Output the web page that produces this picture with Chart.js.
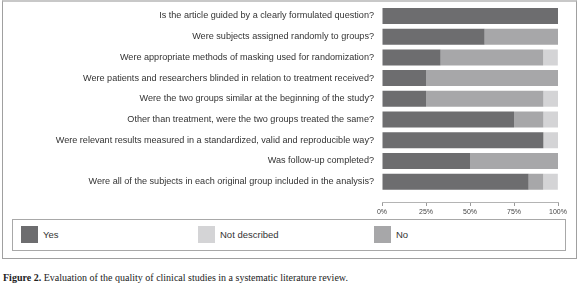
<!DOCTYPE html>
<html>
<head>
<meta charset="utf-8">
<script src="https://cdn.jsdelivr.net/npm/chart.js@4"></script>
<style>
  html, body { margin: 0; padding: 0; background: #fff; }
  body { width: 580px; height: 284px; position: relative; overflow: hidden; font-family: 'Liberation Sans', Arial, sans-serif; }
  .frame { position: absolute; left: 2px; top: 0; width: 573px; height: 256px; border: 1px solid #a0a0a0; border-top: 2px solid #c8c8c8; }
  #chartWrap { position: absolute; left: 0; top: 0; width: 580px; height: 220px; }
  .legend { position: absolute; left: 12px; top: 219px; width: 552px; height: 30px; border: 1px solid #a8a8a8; background: #fff; }
  .legend-item { position: absolute; top: 6px; height: 17px; display: flex; align-items: center; font-size: 9.5px; color: #333; }
  .legend-item span.sw { display: inline-block; width: 17px; height: 17px; margin-right: 5px; }
  .caption { position: absolute; left: 3px; top: 272px; font-family: 'Liberation Serif', 'DejaVu Serif', serif; font-size: 10px; color: #222; white-space: nowrap; }
</style>
</head>
<body>
<div class="frame"></div>
<div id="chartWrap"><canvas id="qualityChart" width="580" height="220"></canvas></div>
<div class="legend" id="legend"></div>
<div class="caption"><b>Figure 2.</b> Evaluation of the quality of clinical studies in a systematic literature review.</div>

<script>
// Questions (top to bottom)
const categories = [
  'Is the article guided by a clearly formulated question?',
  'Were subjects assigned randomly to groups?',
  'Were appropriate methods of masking used for randomization?',
  'Were patients and researchers blinded in relation to treatment received?',
  'Were the two groups similar at the beginning of the study?',
  'Other than treatment, were the two groups treated the same?',
  'Were relevant results measured in a standardized, valid and reproducible way?',
  'Was follow-up completed?',
  'Were all of the subjects in each original group included in the analysis?'
];

// Percent of studies per answer
const yesValues = [100, 58.3, 33.3, 25, 25, 75, 91.7, 50, 83.3];
const noValues = [0, 41.7, 58.3, 75, 66.7, 16.7, 0, 50, 8.3];
const notDescribedValues = [0, 0, 8.3, 0, 8.3, 8.3, 8.3, 0, 8.3];

const tickValues = [0, 25, 50, 75, 100];

const seriesNames = ['Yes', 'No', 'Not described'];
const seriesColors = ['#6d6d6f', '#a7a7a9', '#d4d4d6'];
const legendOrder = ['Yes', 'Not described', 'No'];
const legendLeft = [8, 185, 361];

document.addEventListener('DOMContentLoaded', function() {
  const chart = initQualityChart();
  buildLegend(chart);
});

function initQualityChart() {
  const ctx = document.getElementById('qualityChart');
  const values = [yesValues, noValues, notDescribedValues];

  const data = {
    datasets: seriesNames.map((name, i) => ({
      label: name,
      data: values[i].map((v, j) => ({ x: v, y: j })),
      backgroundColor: seriesColors[i],
      borderWidth: 0,
      barPercentage: 0.773,
      categoryPercentage: 1
    }))
  };

  const config = {
    type: 'bar',
    data: data,
    options: {
      indexAxis: 'y',
      responsive: false,
      animation: false,
      layout: {
        padding: { top: 5.6, right: 22, left: 0, bottom: 0 }
      },
      scales: {
        x: {
          type: 'linear',
          stacked: true,
          min: 0,
          max: 100,
          position: 'bottom',
          afterFit: function(scale) { scale.height = 18; },
          afterBuildTicks: function(scale) {
            scale.ticks = tickValues.map(v => ({ value: v }));
          },
          grid: {
            drawOnChartArea: false,
            drawTicks: true,
            tickLength: 4,
            color: '#9a9a9a'
          },
          border: { display: true, color: '#b4b4b4', width: 1 },
          ticks: {
            padding: 2,
            color: '#444',
            font: { family: 'Liberation Sans, Arial, sans-serif', size: 7 },
            callback: function(value) { return value + '%'; }
          }
        },
        y: {
          type: 'linear',
          stacked: true,
          reverse: true,
          offset: false,
          min: -0.5,
          max: 8.98,
          afterFit: function(scale) { scale.width = 382; },
          afterBuildTicks: function(scale) {
            scale.ticks = categories.map((c, i) => ({ value: i }));
          },
          // invisible tick marks keep an 8px gap between labels and bars
          grid: {
            drawOnChartArea: false,
            drawTicks: true,
            tickLength: 8,
            color: 'rgba(0,0,0,0)'
          },
          border: { display: false },
          ticks: {
            autoSkip: false,
            padding: 0,
            color: '#333',
            font: { family: 'Liberation Sans, Arial, sans-serif', size: 9.1 },
            callback: function(value) { return categories[value]; }
          }
        }
      },
      plugins: {
        legend: { display: false },
        tooltip: { enabled: false }
      }
    }
  };

  return new Chart(ctx, config);
}

// HTML legend inside its own bordered box
function buildLegend(chart) {
  const box = document.getElementById('legend');
  legendOrder.forEach((name, i) => {
    const ds = chart.data.datasets.find(d => d.label === name);
    const item = document.createElement('div');
    item.className = 'legend-item';
    item.style.left = legendLeft[i] + 'px';
    const sw = document.createElement('span');
    sw.className = 'sw';
    sw.style.background = ds.backgroundColor;
    item.appendChild(sw);
    item.appendChild(document.createTextNode(ds.label));
    box.appendChild(item);
  });
}
</script>
</body>
</html>
